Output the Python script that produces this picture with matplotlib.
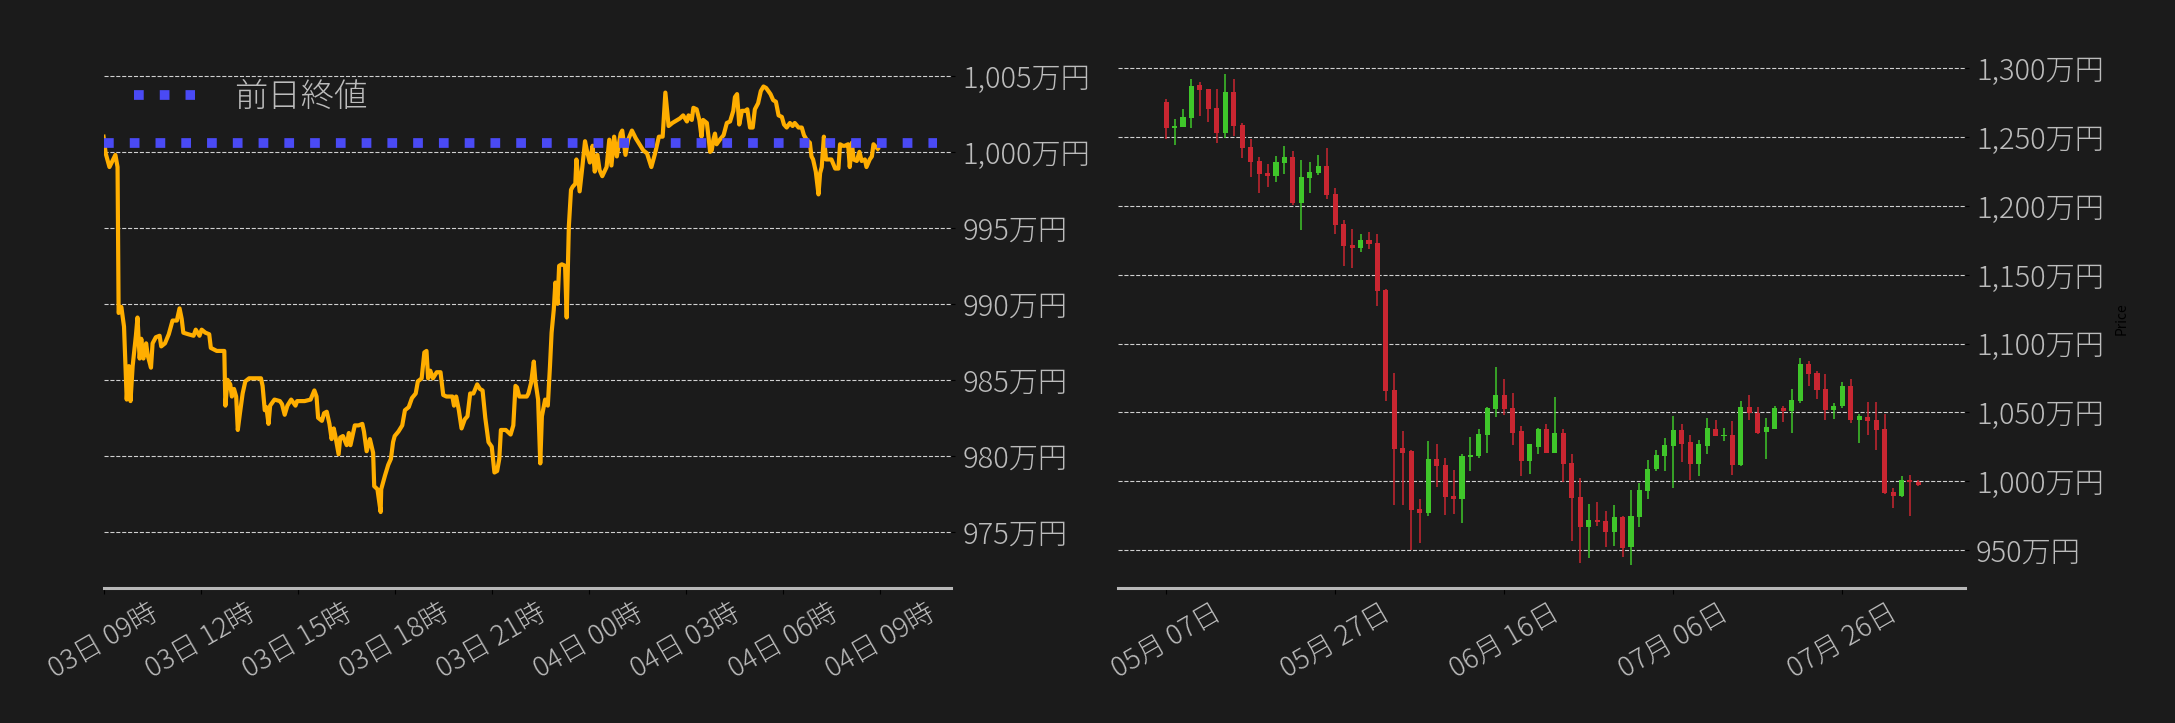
import matplotlib.pyplot as plt
import matplotlib.dates as mdates
from matplotlib.ticker import FuncFormatter, FixedLocator
import numpy as np
import pandas as pd

plt.rcParams['font.family'] = ['Noto Sans CJK JP', 'DejaVu Sans']
plt.rcParams['font.weight'] = 'light'

BG = '#1b1b1b'
TXT = '#bcbcbc'

# --- intraday price (minutes after 03日 09:00, price in 万円) ---
start = pd.Timestamp('2024-08-03 09:00')
minutes = [0, 4, 11, 22, 26, 28, 33, 38, 43, 47, 50, 54, 60, 63, 67, 70, 74, 79, 82, 88,
           91, 97, 104, 107, 114, 121, 128, 136, 141, 145, 148, 157, 167, 171, 178, 182, 189, 196, 199, 210,
           224, 226, 230, 235, 238, 242, 246, 249, 253, 258, 263, 270, 292, 295, 299, 302, 306, 309, 317, 327,
           331, 336, 341, 348, 356, 359, 373, 384, 391, 395, 398, 405, 409, 414, 419, 423, 427, 430, 436, 439,
           444, 451, 455, 458, 466, 473, 480, 483, 488, 494, 500, 502, 508, 514, 515, 522, 528, 533, 537, 540,
           547, 554, 559, 566, 572, 579, 583, 590, 595, 599, 602, 606, 611, 618, 625, 630, 636, 647, 650, 654,
           659, 664, 670, 675, 680, 686, 693, 698, 703, 708, 714, 720, 725, 730, 734, 737, 746, 755, 760, 764,
           767, 771, 785, 788, 793, 798, 801, 806, 810, 813, 819, 824, 828, 831, 835, 838, 842, 845, 850, 856,
           859, 863, 867, 870, 875, 877, 883, 888, 893, 897, 902, 907, 911, 916, 920, 925, 933, 938, 942, 947,
           952, 959, 962, 968, 973, 980, 987, 994, 1001, 1008, 1016, 1023, 1030, 1037, 1042, 1048, 1055, 1069, 1075, 1082,
           1085, 1091, 1094, 1100, 1105, 1109, 1112, 1119, 1122, 1125, 1128, 1131, 1134, 1137, 1143, 1150, 1156, 1162, 1168, 1171,
           1175, 1179, 1184, 1190, 1194, 1199, 1204, 1208, 1214, 1219, 1224, 1229, 1233, 1237, 1242, 1247, 1252, 1258, 1262, 1267,
           1273, 1278, 1282, 1289, 1295, 1299, 1304, 1310, 1313, 1316, 1321, 1326, 1329, 1332, 1336, 1340, 1344, 1350, 1357, 1363,
           1366, 1371, 1375, 1381, 1384, 1388, 1391, 1397, 1402, 1406, 1412, 1415, 1421, 1425, 1428, 1433, 1436]
price = [1001.0, 999.9, 999.0, 999.8, 999.0, 989.4, 989.8, 988.5, 983.7, 985.9, 983.6, 985.9, 987.9, 989.1, 986.4, 987.7, 986.4, 987.4, 986.6, 985.8,
         987.4, 987.8, 987.9, 987.2, 987.4, 988.0, 988.9, 988.9, 989.7, 989.0, 988.1, 988.0, 987.9, 988.3, 987.9, 988.3, 988.1, 988.0, 987.1, 986.9,
         986.9, 983.3, 985.0, 984.7, 983.9, 984.4, 983.9, 981.7, 982.8, 984.1, 984.9, 985.1, 985.1, 984.6, 983.0, 983.2, 982.1, 983.3, 983.7, 983.6,
         983.4, 982.7, 983.3, 983.7, 983.3, 983.6, 983.6, 983.7, 984.3, 983.9, 982.5, 982.3, 982.8, 982.9, 982.1, 981.1, 981.8, 981.3, 980.1, 981.2,
         981.3, 980.7, 981.5, 980.7, 982.0, 982.0, 982.1, 981.6, 980.3, 981.1, 980.2, 978.0, 977.8, 976.3, 977.8, 978.7, 979.4, 979.8, 980.9, 981.3,
         981.6, 982.0, 983.0, 983.2, 983.8, 984.1, 984.9, 985.1, 986.8, 986.9, 985.1, 985.6, 985.1, 985.5, 985.5, 984.0, 983.9, 983.9, 983.3, 983.9,
         983.0, 981.8, 982.4, 982.6, 984.1, 984.1, 984.7, 984.4, 984.3, 982.5, 980.9, 980.6, 978.9, 979.0, 979.8, 981.7, 981.7, 981.4, 982.0, 984.6,
         984.5, 983.9, 983.9, 984.1, 984.8, 986.2, 984.9, 983.7, 979.5, 982.6, 983.7, 983.3, 985.9, 988.1, 989.6, 991.4, 990.0, 992.5, 992.6, 992.5,
         989.1, 995.1, 997.5, 997.7, 997.9, 999.5, 997.4, 999.0, 1000.7, 1000.0, 999.3, 1000.4, 998.7, 999.8, 998.8, 998.4, 999.0, 1000.8, 999.1, 1001.0,
         999.7, 1001.2, 1001.4, 999.8, 1000.8, 1001.4, 1000.9, 1000.5, 1000.1, 999.9, 999.0, 999.9, 1001.0, 1001.0, 1003.9, 1001.7, 1001.9, 1002.2, 1002.4, 1002.0,
         1002.4, 1002.1, 1002.9, 1002.8, 1002.1, 1001.0, 1002.1, 1001.9, 1001.0, 1000.0, 1000.1, 1000.8, 1001.2, 1000.5, 1000.8, 1001.1, 1001.9, 1002.0, 1002.7, 1003.6,
         1003.8, 1001.8, 1002.7, 1002.7, 1002.8, 1001.6, 1001.6, 1002.8, 1003.2, 1004.0, 1004.3, 1004.2, 1004.0, 1003.8, 1003.4, 1003.3, 1002.4, 1002.3, 1001.8, 1001.6,
         1001.9, 1001.7, 1001.9, 1001.6, 1001.6, 1001.1, 1000.8, 1000.6, 999.7, 999.5, 998.7, 997.2, 998.6, 999.0, 1001.0, 999.5, 999.5, 999.5, 998.9, 998.9,
         1000.5, 1000.4, 1000.4, 1000.5, 999.0, 1000.6, 999.5, 999.4, 1000.0, 999.4, 999.5, 999.0, 999.5, 999.7, 1000.5, 1000.3, 1000.2]
prev_close = 1000.6
prev_close_span = [0, 1545]

# --- daily candles (万円) ---
days = pd.date_range('2024-05-07', periods=90, freq='D')
opens = [1275.5, 1256.8, 1257.3, 1264.1, 1287.9, 1285.0, 1271.2, 1253.2, 1282.8, 1258.8,
         1242.8, 1232.6, 1223.9, 1221.9, 1231.2, 1235.5, 1202.1, 1220.2, 1223.9, 1229.0,
         1208.6, 1186.8, 1171.5, 1169.6, 1175.2, 1172.9, 1138.8, 1066.1, 1023.9, 1021.7,
         979.5, 976.8, 1015.9, 1011.5, 989.0, 987.0, 1017.6, 1018.5, 1033.6, 1052.2,
         1062.4, 1053.0, 1036.2, 1014.7, 1025.1, 1037.7, 1020.5, 1034.8, 1013.0, 988.2,
         966.7, 971.5, 970.8, 963.0, 973.7, 952.1, 973.9, 992.9, 1008.6, 1018.3,
         1025.6, 1037.0, 1028.2, 1012.5, 1025.6, 1037.7, 1032.8, 1033.3, 1011.8, 1053.7,
         1049.6, 1035.8, 1037.7, 1053.0, 1050.8, 1058.1, 1085.0, 1078.3, 1066.9, 1051.6,
         1054.4, 1069.0, 1044.5, 1046.4, 1044.2, 1037.7, 991.9, 989.2, 1000.6, 999.6]
highs = [1277.5, 1262.9, 1270.2, 1292.0, 1289.8, 1285.0, 1284.7, 1295.6, 1292.0, 1260.0,
         1248.4, 1235.3, 1230.2, 1236.0, 1243.3, 1239.6, 1233.3, 1231.6, 1236.7, 1242.1,
         1212.7, 1189.5, 1183.6, 1179.3, 1181.0, 1179.3, 1139.5, 1078.9, 1036.2, 1022.4,
         987.3, 1029.0, 1027.3, 1017.1, 1008.4, 1020.0, 1031.9, 1037.7, 1053.7, 1082.8,
         1074.1, 1063.9, 1040.4, 1026.8, 1038.4, 1041.3, 1061.5, 1037.7, 1020.0, 1002.5,
         983.6, 984.6, 978.5, 982.9, 974.4, 993.8, 998.9, 1015.6, 1022.9, 1031.6,
         1047.2, 1041.8, 1033.8, 1029.7, 1046.2, 1044.2, 1038.9, 1044.0, 1058.1, 1062.6,
         1054.2, 1045.7, 1054.9, 1054.4, 1067.3, 1089.8, 1087.7, 1080.2, 1078.1, 1056.6,
         1072.1, 1074.5, 1049.1, 1057.8, 1057.8, 1048.8, 995.3, 1003.5, 1004.2, 1000.6]
lows = [1248.4, 1244.5, 1257.3, 1256.8, 1265.6, 1261.2, 1245.5, 1249.6, 1250.8, 1234.5,
        1221.2, 1209.1, 1213.5, 1217.6, 1223.4, 1200.4, 1182.7, 1209.6, 1222.7, 1205.2,
        1179.8, 1156.2, 1155.0, 1166.7, 1168.8, 1127.4, 1058.1, 982.9, 982.9, 949.7,
        955.0, 974.9, 995.8, 975.6, 976.4, 969.6, 1007.6, 1017.1, 1020.5, 1046.9,
        1048.4, 1026.5, 1003.8, 1005.5, 1019.6, 1020.5, 1020.5, 999.4, 956.7, 940.5,
        944.4, 967.4, 952.1, 952.6, 944.6, 939.3, 966.7, 987.3, 1007.4, 1007.4,
        995.3, 1013.9, 1001.1, 1003.5, 1020.0, 1032.6, 1029.2, 1004.7, 1011.0, 1044.7,
        1034.5, 1016.1, 1037.7, 1043.0, 1035.0, 1056.9, 1069.3, 1059.9, 1044.7, 1045.2,
        1053.2, 1042.3, 1027.8, 1033.6, 1022.7, 990.4, 980.8, 988.5, 974.9, 996.7]
closes = [1256.8, 1258.1, 1264.6, 1287.2, 1284.5, 1270.7, 1253.2, 1282.8, 1258.3, 1242.3,
          1232.1, 1223.4, 1221.9, 1231.9, 1235.5, 1202.1, 1221.0, 1224.6, 1229.0, 1207.9,
          1186.1, 1170.8, 1169.6, 1175.2, 1172.5, 1138.3, 1065.6, 1023.4, 1020.5, 978.8,
          976.8, 1015.9, 1011.0, 988.5, 987.0, 1018.1, 1019.0, 1034.1, 1053.2, 1062.4,
          1052.2, 1035.0, 1014.7, 1026.8, 1037.7, 1020.5, 1034.8, 1012.5, 987.8, 966.7,
          971.5, 970.3, 963.0, 973.7, 951.4, 974.4, 993.3, 1009.1, 1018.8, 1026.1,
          1037.0, 1026.8, 1012.5, 1026.8, 1038.4, 1032.8, 1033.8, 1011.8, 1053.7, 1049.6,
          1035.3, 1039.2, 1053.0, 1050.8, 1058.8, 1085.0, 1077.8, 1066.1, 1051.6, 1054.9,
          1069.0, 1044.5, 1047.2, 1043.8, 1037.2, 991.4, 989.2, 1000.6, 999.4, 997.2]

fig = plt.figure(figsize=(21.75, 7.23), dpi=100, facecolor=BG)
ax1 = fig.add_axes([0.0476, 0.1867, 0.3897, 0.7441], facecolor=BG)
ax2 = fig.add_axes([0.5140, 0.1867, 0.3894, 0.7441], facecolor=BG)

yen = FuncFormatter(lambda v, p: f'{v:,.0f}万円')

for ax in (ax1, ax2):
    for s in ('top', 'left', 'right'):
        ax.spines[s].set_visible(False)
    ax.spines['bottom'].set_color('#b8b8b8')
    ax.spines['bottom'].set_linewidth(2.2)
    ax.yaxis.tick_right()
    ax.tick_params(axis='y', length=3, color='black', pad=5, labelsize=21, labelcolor=TXT)
    ax.tick_params(axis='x', length=4, color='black', labelsize=20, labelcolor=TXT)
    ax.grid(axis='y', linestyle='--', color='#d0d0d0', linewidth=0.8)
    ax.yaxis.set_major_formatter(yen)
    ax.set_axisbelow(True)

# left: intraday line
t = [start + pd.Timedelta(minutes=m) for m in minutes]
ax1.plot(t, price, color='#ffae00', linewidth=3, zorder=3)
pc_t = [start + pd.Timedelta(minutes=m) for m in prev_close_span]
ax1.plot(pc_t, [prev_close, prev_close], color='#4a4af5', linestyle=':', linewidth=7,
         label='前日終値', zorder=4)
ax1.set_xlim(start, start + pd.Timedelta(minutes=1572))
ax1.set_ylim(971.3, 1006.7)
ax1.yaxis.set_major_locator(FixedLocator([975, 980, 985, 990, 995, 1000, 1005]))
ax1.xaxis.set_major_locator(mdates.HourLocator(byhour=range(0, 24, 3)))
ax1.xaxis.set_major_formatter(mdates.DateFormatter('%d日 %H時'))
for lb in ax1.get_xticklabels():
    lb.set_rotation(30)
    lb.set_ha('center')
leg = ax1.legend(loc='upper left', frameon=False, fontsize=24, handlelength=1.83,
                 handletextpad=1.2)
for tx in leg.get_texts():
    tx.set_color(TXT)

# right: daily candles
x = np.arange(len(days))
o = np.array(opens); h = np.array(highs); l = np.array(lows); c = np.array(closes)
cols = np.where(c >= o, '#3fc62a', '#c92631')
ax2.vlines(x, l, h, colors=cols, linewidth=1.1, zorder=3)
body = np.maximum(np.abs(c - o), 0.8)
ax2.bar(x, body, bottom=np.minimum(o, c), width=0.6, color=cols, zorder=4)
ax2.set_xlim(-5.7, 94.5)
ax2.set_ylim(922.4, 1313.3)
ax2.yaxis.set_major_locator(FixedLocator(np.arange(950, 1301, 50)))
tick_idx = [0, 20, 40, 60, 80]
ax2.set_xticks(tick_idx)
ax2.set_xticklabels([days[i].strftime('%m月 %d日') for i in tick_idx], rotation=30, ha='center')
ax2.yaxis.set_label_position('right')
ax2.set_ylabel('Price', fontsize=10, color='black', labelpad=8)

fig.savefig('out.png', dpi=100, facecolor=BG)
